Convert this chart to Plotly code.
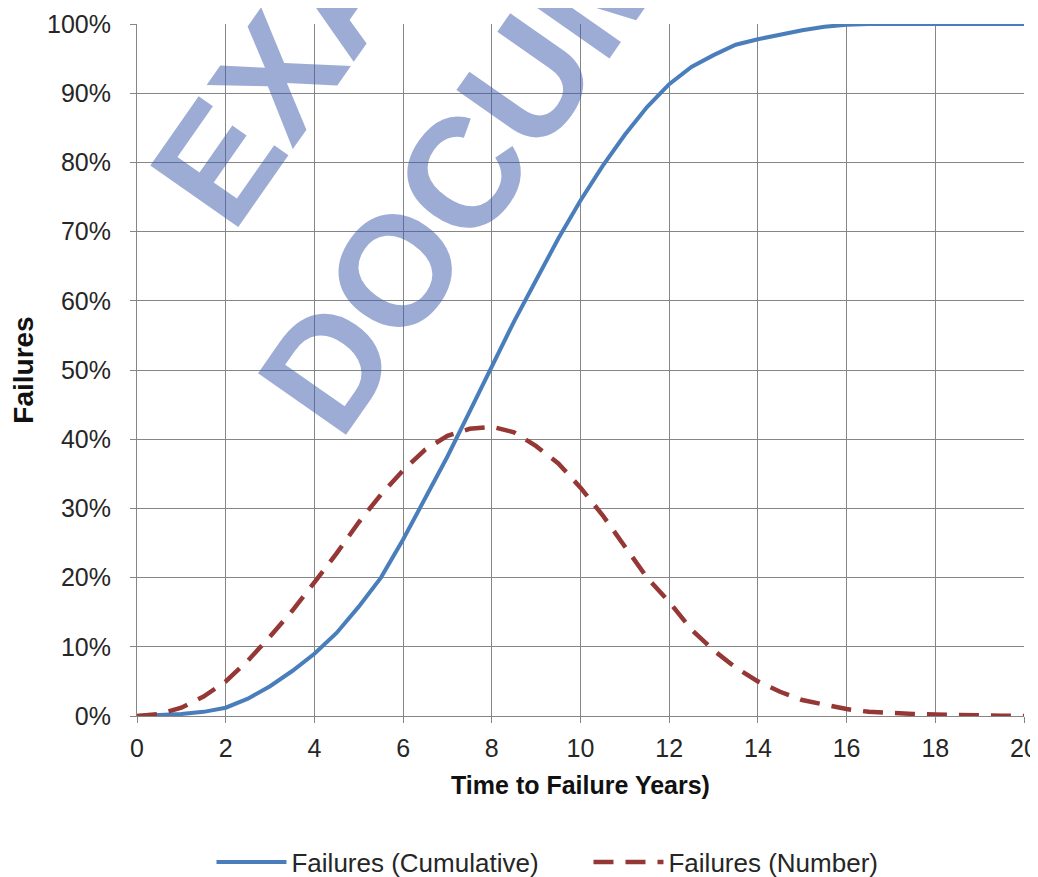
import plotly.graph_objects as go

years = [0, 0.5, 1, 1.5, 2, 2.5, 3, 3.5, 4, 4.5, 5, 5.5, 6, 6.5, 7, 7.5, 8, 8.5, 9, 9.5,
         10, 10.5, 11, 11.5, 12, 12.5, 13, 13.5, 14, 14.5, 15, 15.5, 16, 16.5, 17, 17.5,
         18, 18.5, 19, 19.5, 20]

cumulative = [0, 0.1, 0.3, 0.6, 1.2, 2.5, 4.3, 6.5, 9.0, 12.0, 15.8, 20.0, 25.5, 31.5, 37.5,
              44.0, 50.5, 57.0, 63.0, 69.0, 74.5, 79.5, 84.0, 88.0, 91.3, 93.8, 95.5, 97.0,
              97.8, 98.5, 99.1, 99.6, 99.9, 100, 100, 100, 100, 100, 100, 100, 100]

number = [0, 0.3, 1.2, 2.8, 5.0, 8.0, 11.5, 15.2, 19.3, 23.5, 28.0, 32.0, 35.5, 38.5, 40.5,
          41.5, 41.8, 41.0, 39.0, 36.5, 33.0, 29.0, 24.5, 20.0, 16.5, 12.5, 9.5, 7.0, 5.0,
          3.5, 2.3, 1.6, 1.0, 0.6, 0.4, 0.3, 0.2, 0.2, 0.1, 0.05, 0]

x_ticks = [0, 2, 4, 6, 8, 10, 12, 14, 16, 18, 20]
y_ticks = [0, 10, 20, 30, 40, 50, 60, 70, 80, 90, 100]
y_ticktext = ["0%", "10%", "20%", "30%", "40%", "50%", "60%", "70%", "80%", "90%", "100%"]

series_names = ["Failures (Cumulative)", "Failures (Number)"]
x_title = "Time to Failure Years)"
y_title = "Failures"
watermark = ["EXAMPLE", "DOCUMENT"]

FONT = "Liberation Sans, Arial, sans-serif"
GRID = "#868686"
TXT = "#262626"

fig = go.Figure()
fig.add_trace(go.Scatter(x=years, y=cumulative, mode="lines", name=series_names[0],
                         line=dict(color="#4A7EBB", width=4)))
fig.add_trace(go.Scatter(x=years, y=number, mode="lines", name=series_names[1],
                         line=dict(color="#953735", width=4.5, dash="20px,12px")))

# watermark text carried as labels of invisible line shapes (not constrained to the page)
wm_font = dict(family=FONT, size=156, color="rgba(60,90,170,0.5)", weight="bold")
fig.add_shape(type="line", xref="paper", yref="paper", x0=0.159, y0=0.961, x1=0.416, y1=1.435,
              line=dict(color="rgba(0,0,0,0)", width=1), layer="above",
              label=dict(text=watermark[0], font=wm_font, textangle=-55,
                         textposition="middle", xanchor="center", yanchor="middle", padding=0))
fig.add_shape(type="line", xref="paper", yref="paper", x0=0.3281, y0=0.7478, x1=0.5851, y1=1.2218,
              line=dict(color="rgba(0,0,0,0)", width=1), layer="above",
              label=dict(text=watermark[1], font=wm_font, textangle=-55,
                         textposition="middle", xanchor="center", yanchor="middle", padding=0))

fig.update_layout(
    width=1030, height=869,
    margin=dict(l=129, r=14, t=16, b=161, autoexpand=False),
    paper_bgcolor="white", plot_bgcolor="white",
    font=dict(family=FONT, size=25, color=TXT),
    showlegend=True,
    legend=dict(orientation="h", x=0.509, xanchor="center", y=-0.211, yanchor="middle",
                font=dict(size=26, color=TXT), itemwidth=70, entrywidth=292,
                bgcolor="rgba(0,0,0,0)"),
    xaxis=dict(range=[0, 20], tickvals=x_ticks, showgrid=True, gridcolor=GRID, gridwidth=1,
               showline=True, linecolor=GRID, linewidth=1, automargin=False,
               ticks="outside", ticklen=6, tickcolor=GRID, zeroline=False,
               ticklabelstandoff=4,
               tickfont=dict(size=25, color=TXT),
               title=dict(text="<b>" + x_title + "</b>", standoff=15,
                          font=dict(size=25, color="#111111"))),
    yaxis=dict(range=[0, 100], tickvals=y_ticks, ticktext=y_ticktext, showgrid=True,
               gridcolor=GRID, gridwidth=1, showline=True, linecolor=GRID, linewidth=1,
               ticks="outside", ticklen=6, tickcolor=GRID, zeroline=False, automargin=False,
               ticklabelstandoff=14,
               tickfont=dict(size=25, color=TXT),
               title=dict(text="<b>" + y_title + "</b>", standoff=8,
                          font=dict(size=28, color="#111111"))),
)

fig.write_html("out.html")
